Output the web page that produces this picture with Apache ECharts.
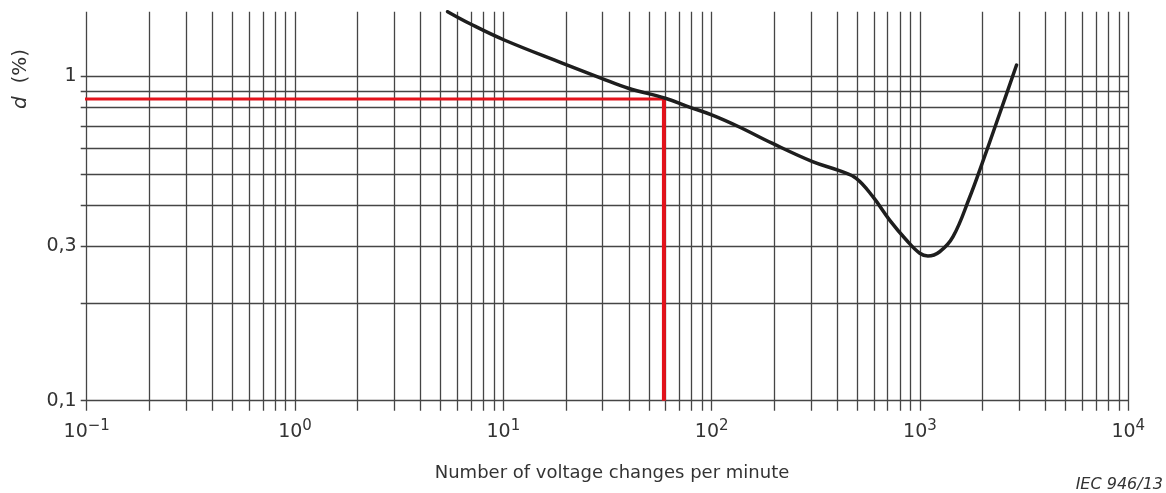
<!DOCTYPE html>
<html><head><meta charset="utf-8">
<script src="https://cdn.jsdelivr.net/npm/echarts@6/dist/echarts.min.js"></script>
<style>html,body{margin:0;padding:0;background:#fff}#c{width:1166px;height:493px}</style>
</head><body><div id="c"></div>
<script>
// Curve (x: changes per minute, y: d in %)
const curveX = [5.4, 6.96, 10.1, 19.3, 29.6, 39.8, 59.9, 77.6, 100.7, 135, 196, 305, 410, 494, 594, 715, 860, 998, 1092, 1243, 1441, 1734, 1936, 2416, 2908];
const curveY = [1.578, 1.446, 1.291, 1.094, 0.984, 0.917, 0.854, 0.804, 0.758, 0.698, 0.620, 0.545, 0.511, 0.484, 0.425, 0.360, 0.3125, 0.2845, 0.279, 0.2876, 0.320, 0.424, 0.513, 0.768, 1.081];

// Red example line
const redStartX = 0.096;
const redX = 59;
const redY = 0.85;
const redBottomY = 0.1;

// Grid / tick values
const xGrid = [0.1,0.2,0.3,0.4,0.5,0.6,0.7,0.8,0.9,
  1,2,3,4,5,6,7,8,9,
  10,20,30,40,50,60,70,80,90,
  100,200,300,400,500,600,700,800,900,
  1000,2000,3000,4000,5000,6000,7000,8000,9000,10000];
const yGrid = [0.1,0.2,0.3,0.4,0.5,0.6,0.7,0.8,0.9,1];
const xLabelVals = [0.1, 1, 10, 100, 1000, 10000];
const xLabelExp = ['\u22121', '0', '1', '2', '3', '4'];
const yLabelVals = [0.1, 0.3, 1];
const yLabelText = ['0,1', '0,3', '1'];
const xMin = 0.1, xMax = 10000, yMin = 0.1, yMax = 1.578;

function findIdx(arr, v) {
  for (let i = 0; i < arr.length; i++) {
    if (Math.abs(Math.log10(arr[i]) - Math.log10(v)) < 1e-6) return i;
  }
  return -1;
}

const FONT = 'DejaVu Sans';
const GRID_COLOR = '#454545';
const TEXT_COLOR = '#333';

const chart = echarts.init(document.getElementById('c'), null, {renderer: 'canvas'});
chart.setOption({
  animation: false,
  backgroundColor: '#fff',
  grid: {left: 86.7, right: 37.7, top: 11.7, bottom: 92.3, containLabel: false},
  xAxis: {
    type: 'log', logBase: 10, min: xMin, max: xMax, offset: 10,
    axisLine: {show: false},
    splitLine: {show: false},
    axisTick: {show: true, inside: true, length: 399, customValues: xGrid,
      lineStyle: {color: GRID_COLOR, width: 1.3}},
    axisLabel: {
      customValues: xLabelVals, margin: 8, color: TEXT_COLOR,
      formatter: function (v) {
        const i = findIdx(xLabelVals, v);
        return i < 0 ? '' : '{b|10}{s|' + xLabelExp[i] + '}';
      },
      rich: {
        b: {fontFamily: FONT, fontSize: 19, color: TEXT_COLOR, lineHeight: 23, padding: [6, 0, 0, 0], verticalAlign: 'bottom'},
        s: {fontFamily: FONT, fontSize: 15, color: TEXT_COLOR, lineHeight: 15, verticalAlign: 'top'}
      }
    }
  },
  yAxis: {
    type: 'log', logBase: 10, min: yMin, max: yMax, offset: 6,
    axisLine: {show: false},
    splitLine: {show: false},
    axisTick: {show: true, inside: true, length: 1047.6, customValues: yGrid,
      lineStyle: {color: GRID_COLOR, width: 1.3}},
    axisLabel: {
      customValues: yLabelVals, margin: 4, color: TEXT_COLOR,
      fontFamily: FONT, fontSize: 19,
      formatter: function (v) {
        const i = findIdx(yLabelVals, v);
        return i < 0 ? '' : yLabelText[i];
      }
    }
  },
  series: [
    {
      type: 'line', name: 'redH', data: [[redStartX, redY], [redX, redY]],
      showSymbol: false, clip: false, silent: true, z: 3,
      lineStyle: {color: '#e3121b', width: 3}
    },
    {
      type: 'line', name: 'redV', data: [[redX, redY], [redX, redBottomY]],
      showSymbol: false, clip: false, silent: true, z: 3,
      lineStyle: {color: '#e3121b', width: 4}
    },
    {
      type: 'line', name: 'curve',
      data: curveX.map((x, i) => [x, curveY[i]]),
      smooth: 0.4, showSymbol: false, clip: true, silent: true, z: 4,
      lineStyle: {color: '#1e1e1e', width: 3.5, cap: 'round', join: 'round'}
    }
  ],
  graphic: [
    {
      type: 'text', x: 21, y: 79, rotation: Math.PI / 2,
      style: {
        text: '{i|d}  (%)', fill: TEXT_COLOR, fontFamily: FONT, fontSize: 20,
        align: 'center', verticalAlign: 'middle',
        rich: {i: {fontStyle: 'italic', fontFamily: FONT, fontSize: 20, fill: TEXT_COLOR}}
      }
    },
    {
      type: 'text', x: 612, y: 473,
      style: {
        text: 'Number of voltage changes per minute', fill: TEXT_COLOR,
        fontFamily: FONT, fontSize: 18, align: 'center', verticalAlign: 'middle'
      }
    },
    {
      type: 'text', x: 1163, y: 485,
      style: {
        text: 'IEC 946/13', fill: TEXT_COLOR, fontFamily: FONT, fontSize: 16,
        fontStyle: 'italic', align: 'right', verticalAlign: 'middle'
      }
    }
  ]
});
</script>
</body></html>
